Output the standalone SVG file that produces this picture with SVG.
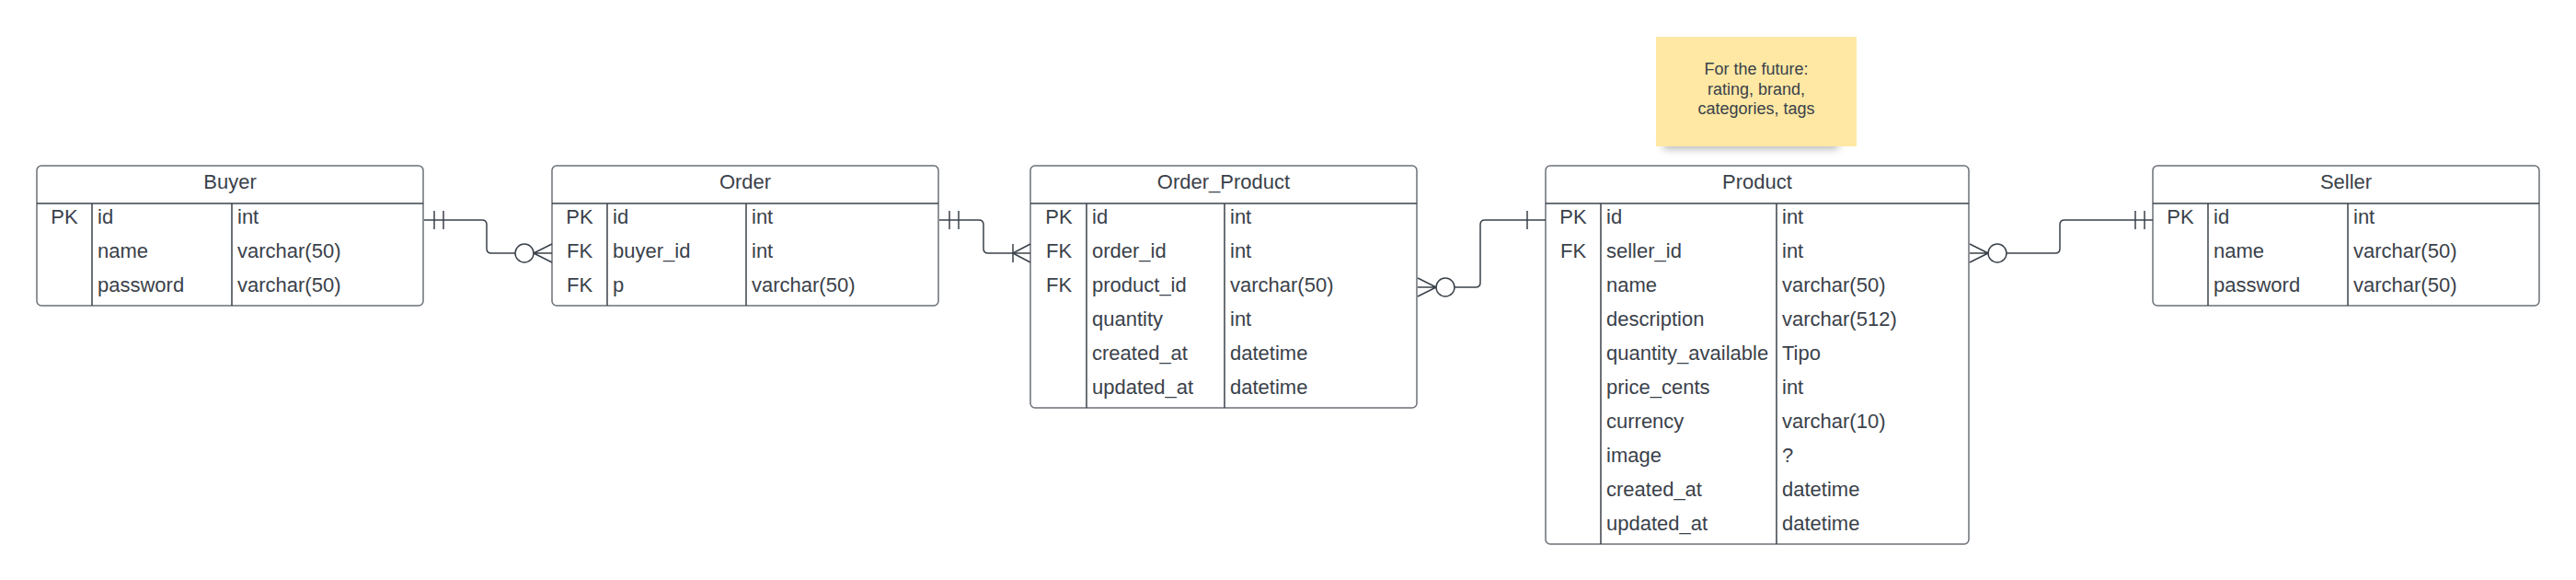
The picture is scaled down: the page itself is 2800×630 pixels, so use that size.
<svg xmlns="http://www.w3.org/2000/svg" width="2800" height="630" viewBox="0 0 2800 630">
<style>
.box{fill:#ffffff;stroke:#6b7077;stroke-width:1.5}
.ln{stroke:#3a414a;stroke-width:1.5;fill:none}
.t{font-family:"Liberation Sans",Arial,sans-serif;font-size:22px;fill:#3a414a}
.c{text-anchor:middle}
.n{font-family:"Liberation Sans",Arial,sans-serif;font-size:18px;fill:#3a414a;text-anchor:middle}
.con{stroke:#3a414a;stroke-width:1.5;fill:none;stroke-linejoin:round}
.circ{stroke:#3a414a;stroke-width:1.5;fill:#ffffff}
</style>
<defs>
<filter id="sh" x="-20%" y="-50%" width="140%" height="200%"><feGaussianBlur stdDeviation="4"/></filter>
</defs>
<rect width="2800" height="630" fill="#ffffff"/>

<g id="note">
<rect x="1808" y="140" width="190" height="22" fill="#9a9a9a" opacity="0.7" filter="url(#sh)"/>
<rect x="1800" y="40" width="218" height="119" fill="#fee8a4"/>
<text class="n" x="1909" y="81">For the future:</text>
<text class="n" x="1909" y="103">rating, brand,</text>
<text class="n" x="1909" y="124">categories, tags</text>
</g>

<g id="buyer">
<rect class="box" x="40" y="180" width="420" height="152" rx="5"/>
<line class="ln" x1="40" y1="221" x2="460" y2="221"/>
<line class="ln" x1="100" y1="221" x2="100" y2="332"/>
<line class="ln" x1="252" y1="221" x2="252" y2="332"/>
<text class="t c" x="250" y="205">Buyer</text>
<text class="t c" x="70" y="243">PK</text>
<text class="t" x="106" y="243">id</text><text class="t" x="258" y="243">int</text>
<text class="t" x="106" y="280">name</text><text class="t" x="258" y="280">varchar(50)</text>
<text class="t" x="106" y="317">password</text><text class="t" x="258" y="317">varchar(50)</text>
</g>

<g id="order">
<rect class="box" x="600" y="180" width="420" height="152" rx="5"/>
<line class="ln" x1="600" y1="221" x2="1020" y2="221"/>
<line class="ln" x1="660" y1="221" x2="660" y2="332"/>
<line class="ln" x1="811" y1="221" x2="811" y2="332"/>
<text class="t c" x="810" y="205">Order</text>
<text class="t c" x="630" y="243">PK</text>
<text class="t c" x="630" y="280">FK</text>
<text class="t c" x="630" y="317">FK</text>
<text class="t" x="666" y="243">id</text><text class="t" x="817" y="243">int</text>
<text class="t" x="666" y="280">buyer_id</text><text class="t" x="817" y="280">int</text>
<text class="t" x="666" y="317">p</text><text class="t" x="817" y="317">varchar(50)</text>
</g>

<g id="order_product">
<rect class="box" x="1120" y="180" width="420" height="263" rx="5"/>
<line class="ln" x1="1120" y1="221" x2="1540" y2="221"/>
<line class="ln" x1="1181" y1="221" x2="1181" y2="443"/>
<line class="ln" x1="1331" y1="221" x2="1331" y2="443"/>
<text class="t c" x="1330" y="205">Order_Product</text>
<text class="t c" x="1151" y="243">PK</text>
<text class="t c" x="1151" y="280">FK</text>
<text class="t c" x="1151" y="317">FK</text>
<text class="t" x="1187" y="243">id</text><text class="t" x="1337" y="243">int</text>
<text class="t" x="1187" y="280">order_id</text><text class="t" x="1337" y="280">int</text>
<text class="t" x="1187" y="317">product_id</text><text class="t" x="1337" y="317">varchar(50)</text>
<text class="t" x="1187" y="354">quantity</text><text class="t" x="1337" y="354">int</text>
<text class="t" x="1187" y="391">created_at</text><text class="t" x="1337" y="391">datetime</text>
<text class="t" x="1187" y="428">updated_at</text><text class="t" x="1337" y="428">datetime</text>
</g>

<g id="product">
<rect class="box" x="1680" y="180" width="460" height="411" rx="5"/>
<line class="ln" x1="1680" y1="221" x2="2140" y2="221"/>
<line class="ln" x1="1740" y1="221" x2="1740" y2="591"/>
<line class="ln" x1="1931" y1="221" x2="1931" y2="591"/>
<text class="t c" x="1910" y="205">Product</text>
<text class="t c" x="1710" y="243">PK</text>
<text class="t c" x="1710" y="280">FK</text>
<text class="t" x="1746" y="243">id</text><text class="t" x="1937" y="243">int</text>
<text class="t" x="1746" y="280">seller_id</text><text class="t" x="1937" y="280">int</text>
<text class="t" x="1746" y="317">name</text><text class="t" x="1937" y="317">varchar(50)</text>
<text class="t" x="1746" y="354">description</text><text class="t" x="1937" y="354">varchar(512)</text>
<text class="t" x="1746" y="391">quantity_available</text><text class="t" x="1937" y="391">Tipo</text>
<text class="t" x="1746" y="428">price_cents</text><text class="t" x="1937" y="428">int</text>
<text class="t" x="1746" y="465">currency</text><text class="t" x="1937" y="465">varchar(10)</text>
<text class="t" x="1746" y="502">image</text><text class="t" x="1937" y="502">?</text>
<text class="t" x="1746" y="539">created_at</text><text class="t" x="1937" y="539">datetime</text>
<text class="t" x="1746" y="576">updated_at</text><text class="t" x="1937" y="576">datetime</text>
</g>

<g id="seller">
<rect class="box" x="2340" y="180" width="420" height="152" rx="5"/>
<line class="ln" x1="2340" y1="221" x2="2760" y2="221"/>
<line class="ln" x1="2400" y1="221" x2="2400" y2="332"/>
<line class="ln" x1="2552" y1="221" x2="2552" y2="332"/>
<text class="t c" x="2550" y="205">Seller</text>
<text class="t c" x="2370" y="243">PK</text>
<text class="t" x="2406" y="243">id</text><text class="t" x="2558" y="243">int</text>
<text class="t" x="2406" y="280">name</text><text class="t" x="2558" y="280">varchar(50)</text>
<text class="t" x="2406" y="317">password</text><text class="t" x="2558" y="317">varchar(50)</text>
</g>

<g id="connectors">
<!-- Buyer -> Order -->
<path class="con" d="M461,239 H524 Q529,239 529,244 V270 Q529,275 534,275 H560"/>
<line class="con" x1="472" y1="229" x2="472" y2="249"/>
<line class="con" x1="482" y1="229" x2="482" y2="249"/>
<circle class="circ" cx="570" cy="275" r="10"/>
<path class="con" d="M600,265 L580,275 L600,285 M580,275 H600"/>

<!-- Order -> Order_Product -->
<path class="con" d="M1021,239 H1064 Q1069,239 1069,244 V270 Q1069,275 1074,275 H1120"/>
<line class="con" x1="1032" y1="229" x2="1032" y2="249"/>
<line class="con" x1="1042" y1="229" x2="1042" y2="249"/>
<line class="con" x1="1101" y1="265" x2="1101" y2="285"/>
<path class="con" d="M1120,265 L1101,275 L1120,285"/>

<!-- Order_Product -> Product -->
<path class="con" d="M1581,312 H1604 Q1609,312 1609,307 V244 Q1609,239 1614,239 H1680"/>
<circle class="circ" cx="1571" cy="312" r="10"/>
<path class="con" d="M1541,302 L1561,312 L1541,322 M1541,312 H1561"/>
<line class="con" x1="1660" y1="229" x2="1660" y2="249"/>

<!-- Product -> Seller -->
<path class="con" d="M2181,275 H2234 Q2239,275 2239,270 V244 Q2239,239 2244,239 H2340"/>
<circle class="circ" cx="2171" cy="275" r="10"/>
<path class="con" d="M2141,265 L2161,275 L2141,285 M2141,275 H2161"/>
<line class="con" x1="2321" y1="229" x2="2321" y2="249"/>
<line class="con" x1="2331" y1="229" x2="2331" y2="249"/>
</g>
</svg>
